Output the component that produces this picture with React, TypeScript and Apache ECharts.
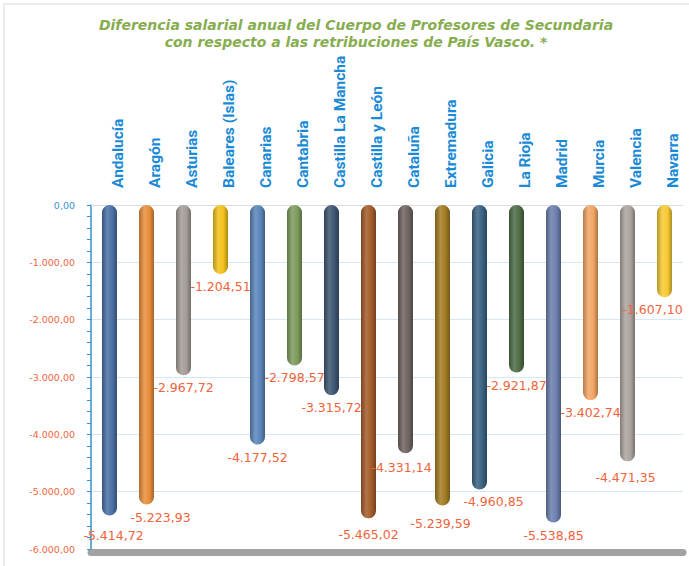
import React, { useEffect, useRef } from "react";
import * as echarts from "echarts";

const titleLines = [
  "Diferencia salarial anual del Cuerpo de Profesores de Secundaria",
  "con respecto a las retribuciones de País Vasco. *",
];

const categories = [
  "Andalucía",
  "Aragón",
  "Asturias",
  "Baleares (Islas)",
  "Canarias",
  "Cantabria",
  "Castilla La Mancha",
  "Castilla y León",
  "Cataluña",
  "Extremadura",
  "Galicia",
  "La Rioja",
  "Madrid",
  "Murcia",
  "Valencia",
  "Navarra",
];

const values = [
  -5414.72, -5223.93, -2967.72, -1204.51, -4177.52, -2798.57, -3315.72, -5465.02,
  -4331.14, -5239.59, -4960.85, -2921.87, -5538.85, -3402.74, -4471.35, -1607.1,
];

const barColors = [
  "#4a6fa5", "#e88e3a", "#a39c98", "#f2c21a", "#5a86bb", "#7c9b5c", "#3e5672", "#a45c2a",
  "#6f6461", "#a27c22", "#3b6283", "#4f6c46", "#6b7fae", "#f2a464", "#ada39f", "#f7c933",
];

const yMin = -6000;
const yMax = 0;
const yStep = 1000;

// label nudges (px) to mimic the reference's manual label placement
const labelNudge: Record<string, [number, number]> = {
  "Andalucía": [4, 8],
  "Aragón": [14, 0],
  "Cataluña": [-4, 2],
  "Extremadura": [-2, 6],
  "Galicia": [14, 0],
  "Navarra": [-12, 0],
  "Castilla y León": [0, 4],
  "Valencia": [-2, 4],
};

function fmtEs(v: number): string {
  const neg = v < 0;
  const a = Math.abs(v);
  const fixed = a.toFixed(2);
  const [intPart, dec] = fixed.split(".");
  const grouped = intPart.replace(/\B(?=(\d{3})+(?!\d))/g, ".");
  return (neg ? "-" : "") + grouped + "," + dec;
}

function shade(hex: string, amt: number): string {
  const n = parseInt(hex.slice(1), 16);
  let r = (n >> 16) & 255;
  let g = (n >> 8) & 255;
  let b = n & 255;
  if (amt >= 0) {
    r = Math.round(r + (255 - r) * amt);
    g = Math.round(g + (255 - g) * amt);
    b = Math.round(b + (255 - b) * amt);
  } else {
    r = Math.round(r * (1 + amt));
    g = Math.round(g * (1 + amt));
    b = Math.round(b * (1 + amt));
  }
  return "rgb(" + r + "," + g + "," + b + ")";
}

function cylinder(c: string) {
  return new echarts.graphic.LinearGradient(0, 0, 1, 0, [
    { offset: 0, color: shade(c, -0.25) },
    { offset: 0.35, color: shade(c, 0.15) },
    { offset: 0.7, color: c },
    { offset: 1, color: shade(c, -0.3) },
  ]);
}

export default function App() {
  const ref = useRef<HTMLDivElement>(null);

  useEffect(() => {
    if (!ref.current) return;
    const chart = echarts.init(ref.current, null, { renderer: "svg" });
    const data = values.map((v, i) => {
      const nudge = labelNudge[categories[i]];
      return {
        value: v,
        itemStyle: { color: cylinder(barColors[i]) },
        label: nudge ? { offset: nudge } : undefined,
      };
    });
    chart.setOption({
      animation: false,
      backgroundColor: "#ffffff",
      graphic: [
        {
          type: "rect",
          shape: { x: 4, y: 4, width: 700, height: 600 },
          style: { fill: "none", stroke: "#e4e8ec", lineWidth: 1.5 },
          silent: true,
        },
      ],
      title: {
        text: titleLines.join("\n"),
        left: 351,
        textAlign: "center",
        top: 11,
        textStyle: {
          color: "#86ad4f",
          fontFamily: "DejaVu Sans",
          fontStyle: "italic",
          fontWeight: "bold",
          fontSize: 14,
          lineHeight: 17,
        },
      },
      grid: { left: 91, right: 6, top: 205, bottom: 17 },
      xAxis: [
        {
          type: "category",
          data: categories,
          position: "top",
          axisLine: { show: true, lineStyle: { color: "#d8dde2", width: 1 } },
          axisTick: { show: false },
          axisLabel: {
            rotate: 90,
            margin: 17,
            interval: 0,
            verticalAlign: "top",
            color: "#1a8ad6",
            fontFamily: "Liberation Sans Narrow, Roboto, sans-serif",
            fontWeight: "bold",
            fontSize: 15.5,
          },
        },
        {
          type: "category",
          data: categories,
          position: "bottom",
          offset: 3,
          axisLine: { show: true, lineStyle: { color: "#a2a2a2", width: 7 } },
          axisTick: { show: false },
          axisLabel: { show: false },
        },
      ],
      yAxis: {
        type: "value",
        min: yMin,
        max: yMax,
        interval: yStep,
        axisLine: { show: true, lineStyle: { color: "#3a8fcc", width: 1.5 } },
        axisTick: { show: true, inside: false, length: 4, lineStyle: { color: "#3a8fcc" } },
        minorTick: { show: true, splitNumber: 5, length: 4, lineStyle: { color: "#3a8fcc" } },
        splitLine: { show: true, lineStyle: { color: "#d6e6f2", width: 1 } },
        axisLabel: {
          margin: 16,
          fontSize: 9.5,
          fontFamily: "DejaVu Sans",
          color: (v: any) => (Number(v) === 0 ? "#3a8fcc" : "#f0663e"),
          formatter: (v: number) => fmtEs(v),
        },
      },
      series: [
        {
          type: "bar",
          xAxisIndex: 0,
          data,
          barWidth: 15,
          itemStyle: { borderRadius: 7.5 },
          label: {
            show: true,
            position: "bottom",
            distance: 6,
            color: "#f0643c",
            fontSize: 12.5,
            fontFamily: "DejaVu Sans",
            formatter: (p: any) => fmtEs(p.value),
          },
        },
      ],
    });
    return () => chart.dispose();
  }, []);

  return (
    <div
      ref={ref}
      style={{ position: "fixed", left: 0, top: 0, width: 689, height: 566 }}
    />
  );
}
